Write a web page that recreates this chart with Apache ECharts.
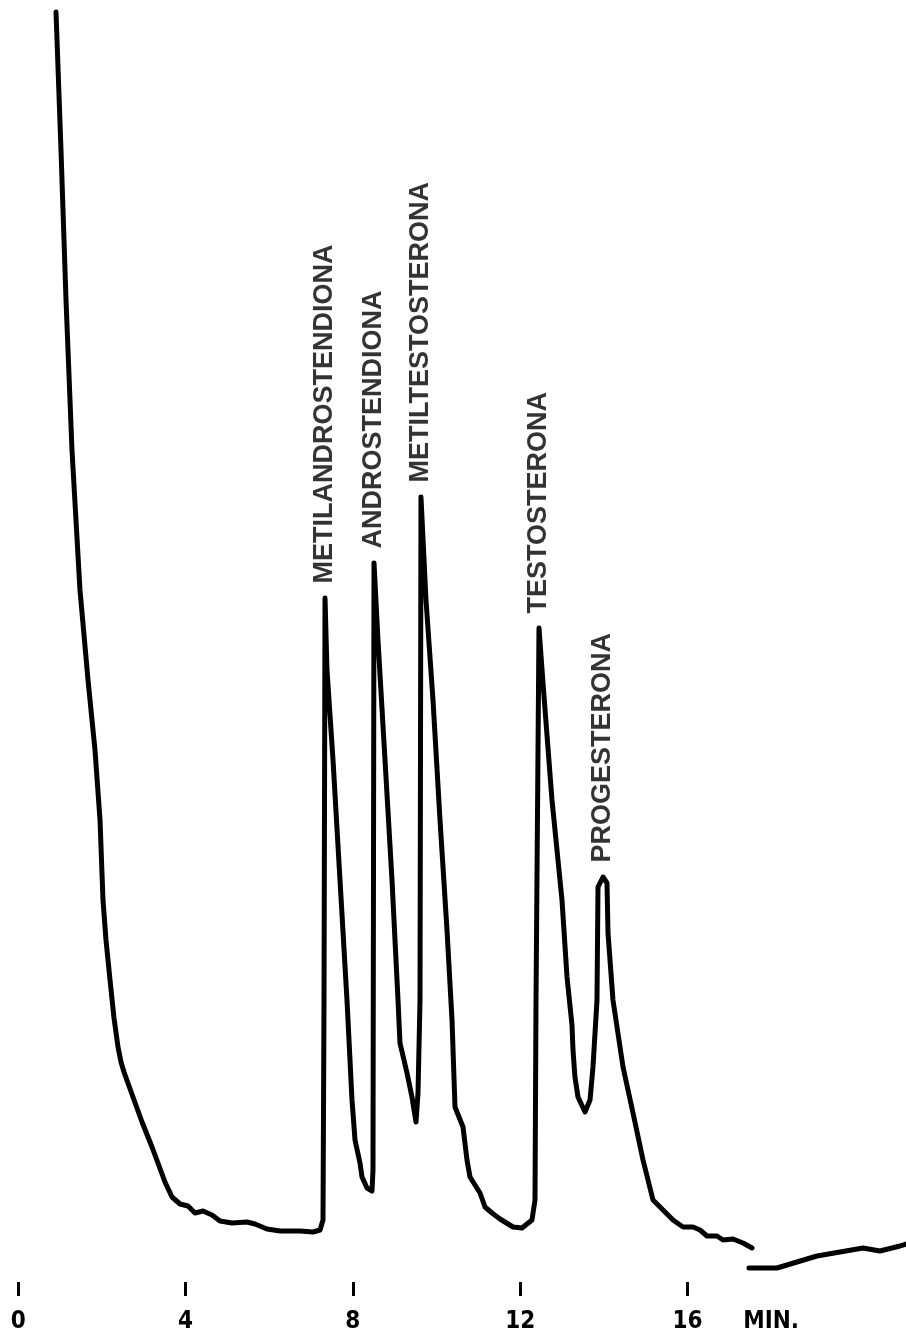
<!DOCTYPE html>
<html>
<head>
<meta charset="utf-8">
<script src="https://cdn.jsdelivr.net/npm/echarts@6/dist/echarts.min.js"></script>
<style>
  html, body { margin: 0; padding: 0; background: #fff; }
  #chart { width: 906px; height: 1342px; }
</style>
</head>
<body>
<div id="chart"></div>
<script>
// Retention time (min) of the traced detector curve
const timeMin = [
  0.904, 1.023, 1.143, 1.286, 1.477, 1.669, 1.836, 1.956, 2.027, 2.099,
  2.195, 2.290, 2.386, 2.458, 2.529, 2.744, 2.960, 3.199, 3.509, 3.677, 3.868, 4.059,
  4.227, 4.418, 4.633, 4.824, 5.111, 5.470, 5.661, 5.948, 6.259, 6.737,
  7.048, 7.215, 7.287, 7.311, 7.335,
  7.382, 7.526, 7.693, 7.860, 7.980, 8.052, 8.171, 8.219, 8.339, 8.458,
  8.482, 8.506,
  8.601, 8.769, 8.936, 9.080, 9.127, 9.295, 9.414, 9.510, 9.558, 9.606,
  9.629,
  9.749, 9.916, 10.084, 10.251, 10.371, 10.442, 10.634, 10.729, 10.801, 11.040,
  11.160, 11.327, 11.518, 11.829, 12.044, 12.283, 12.355, 12.379, 12.450,
  12.546, 12.761, 13.000, 13.120, 13.239, 13.263, 13.310, 13.383, 13.550, 13.670,
  13.741, 13.837, 13.861, 13.981, 14.076, 14.100, 14.219, 14.459, 14.698, 14.937,
  15.176, 15.415, 15.654, 15.893, 16.132, 16.299, 16.467, 16.706, 16.849, 17.088,
  17.327, 17.543,
  17.500,
  17.470, 18.140, 18.618, 19.096, 19.646, 20.196, 20.602, 21.080, 21.224
];
// Detector response (arbitrary units); null = break in the trace
const signal = [
  1228, 1090, 940, 790, 650, 560, 490, 420, 340, 300,
  260, 222, 193, 178, 168, 143, 118, 93, 58, 43, 36, 34,
  27, 29, 25, 19, 17, 18, 16, 11, 9, 9,
  8, 10, 20, 240, 642,
  570, 480, 360, 240, 140, 100, 77, 63, 52, 49,
  70, 677,
  600, 480, 360, 240, 197, 167, 143, 118, 147, 240,
  743,
  640, 540, 420, 310, 220, 133, 113, 80, 63, 47,
  33, 27, 21, 13, 12, 20, 40, 240, 612,
  557, 440, 340, 263, 215, 190, 163, 143, 128, 140,
  173, 240, 353, 363, 357, 307, 240, 173, 127, 80,
  40, 30, 20, 13, 13, 10, 4, 4, 0, 1,
  -3, -8,
  null,
  -28, -28, -22, -16, -12, -8, -11, -6, -4
];
// Peak identification
const peakNames = ['METILANDROSTENDIONA', 'ANDROSTENDIONA', 'METILTESTOSTERONA', 'TESTOSTERONA', 'PROGESTERONA'];
const peakTimes = [7.335, 8.506, 9.629, 12.450, 13.981];
const peakHeights = [642, 677, 743, 612, 363];
// Axis ticks
const tickValues = [0, 4, 8, 12, 16];
const unitLabelValue = 18;
const unitLabel = 'MIN.';

const lineData = timeMin.map((t, i) => [t, signal[i]]);
const peakData = peakNames.map((n, i) => ({ name: n, value: [peakTimes[i], peakHeights[i]] }));

const chart = echarts.init(document.getElementById('chart'), null, { renderer: 'canvas' });
chart.setOption({
  animation: false,
  backgroundColor: '#ffffff',
  grid: { left: 0, right: 0, top: 10, bottom: 46, containLabel: false },
  xAxis: {
    type: 'value',
    min: -0.435,
    max: 21.224,
    axisLine: { show: false, onZero: false },
    splitLine: { show: false },
    axisTick: {
      show: true,
      inside: true,
      length: 14,
      customValues: tickValues,
      lineStyle: { color: '#000', width: 3 }
    },
    axisLabel: {
      show: true,
      customValues: tickValues.concat([unitLabelValue]),
      margin: 14,
      color: '#000',
      fontSize: 24,
      fontWeight: 'bold',
      fontFamily: "'Liberation Sans Narrow', 'DejaVu Sans Condensed', sans-serif",
      formatter: v => (v === unitLabelValue ? unitLabel : String(v))
    }
  },
  yAxis: {
    type: 'value',
    min: -56,
    max: 1230,
    show: false,
    splitLine: { show: false }
  },
  series: [
    {
      type: 'line',
      data: lineData,
      showSymbol: false,
      connectNulls: false,
      lineStyle: { color: '#000', width: 5, join: 'round', cap: 'round' },
      z: 2
    },
    {
      type: 'scatter',
      data: peakData,
      symbolSize: 1,
      itemStyle: { color: 'rgba(0,0,0,0)' },
      label: {
        show: true,
        formatter: p => p.name,
        position: 'top',
        distance: 14,
        rotate: 90,
        align: 'left',
        verticalAlign: 'middle',
        color: '#000',
        fontSize: 27,
        fontWeight: 'bold',
        fontFamily: "'Liberation Sans', Arial, sans-serif"
      },
      z: 3
    }
  ]
});
</script>
</body>
</html>
